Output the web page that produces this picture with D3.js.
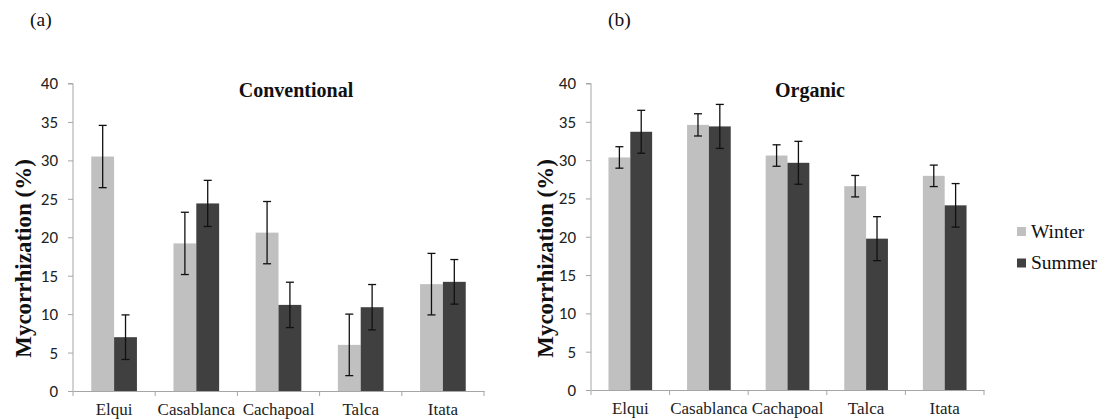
<!DOCTYPE html>
<html><head><meta charset="utf-8">
<script src="https://cdn.jsdelivr.net/npm/d3@7"></script>
<style>body{margin:0;background:#fff}</style>
</head><body>
<svg id="c" width="1109" height="420"></svg>
<script>
const categories = ["Elqui","Casablanca","Cachapoal","Talca","Itata"];
const seriesNames = ["Winter","Summer"];
const convWinter = [30.5, 19.2, 20.6, 6.0, 13.9];
const convWinterErr = [4.05, 4.05, 4.05, 4.0, 4.0];
const convSummer = [7.0, 24.4, 11.2, 10.9, 14.2];
const convSummerErr = [2.9, 3.0, 2.95, 2.95, 2.9];
const orgWinter = [30.35, 34.6, 30.6, 26.6, 27.95];
const orgWinterErr = [1.4, 1.45, 1.4, 1.4, 1.4];
const orgSummer = [33.7, 34.4, 29.65, 19.75, 24.1];
const orgSummerErr = [2.8, 2.87, 2.8, 2.87, 2.84];
const yTicks = [0,5,10,15,20,25,30,35,40];
const colors = ["#c0c0c0","#404040"];

const svg = d3.select("#c");
const SERIF = "Liberation Serif";
const SANS = "Carlito";

function panel(opt){
  const g = svg.append("g");
  const x = d3.scaleBand().domain(categories).range([opt.x0, opt.x1]).paddingInner(0).paddingOuter(0);
  const y = d3.scaleLinear().domain([0,40]).range([opt.y0, opt.y1]);
  const inner = d3.scaleBand().domain(seriesNames).range([0, x.bandwidth()]).paddingInner(0).paddingOuter(0.8);

  // y axis
  const ya = g.append("g").attr("transform",`translate(${opt.x0},0)`)
    .call(d3.axisLeft(y).tickValues(yTicks).tickSize(5).tickPadding(10).tickFormat(d3.format("d")));
  ya.select(".domain").attr("stroke","#a6a6a6").attr("d",`M-5,${opt.y1}H0V${opt.y0}`);
  ya.selectAll(".tick line").attr("stroke","#a6a6a6");
  ya.selectAll(".tick text").attr("font-family",SANS).attr("font-size",17).attr("fill","#222");

  // bars
  const data = opt.series;
  data.forEach((s,si)=>{
    g.selectAll(null).data(categories).enter().append("rect")
      .attr("x", d=>x(d)+inner(seriesNames[si]))
      .attr("width", inner.bandwidth())
      .attr("y", (d,i)=>y(s.v[i]))
      .attr("height", (d,i)=>y(0)-y(s.v[i]))
      .attr("fill", colors[si]);
  });
  // x axis
  const xa = g.append("g").attr("transform",`translate(0,${opt.y0})`)
    .call(d3.axisBottom(x).tickSize(0).tickPadding(12));
  xa.select(".domain").attr("stroke","#a6a6a6");
  xa.selectAll(".tick text").attr("font-family",SERIF).attr("font-size",17).attr("fill","#222")
    .attr("dy",null).attr("y",24);
  // category boundary ticks
  g.selectAll(null).data(d3.range(categories.length+1)).enter().append("line")
    .attr("x1", i=>opt.x0 + i*x.step()).attr("x2", i=>opt.x0 + i*x.step())
    .attr("y1", opt.y0).attr("y2", opt.y0+5).attr("stroke","#a6a6a6");

  // error bars
  data.forEach((s,si)=>{
    categories.forEach((c,i)=>{
      const cx = x(c)+inner(seriesNames[si])+inner.bandwidth()/2;
      const top = y(s.v[i]+s.e[i]), bot = y(s.v[i]-s.e[i]);
      g.append("line").attr("x1",cx).attr("x2",cx).attr("y1",top).attr("y2",bot).attr("stroke","#111").attr("stroke-width",1.3);
      [top,bot].forEach(yy=>g.append("line").attr("x1",cx-4).attr("x2",cx+4).attr("y1",yy).attr("y2",yy).attr("stroke","#111").attr("stroke-width",1.3));
    });
  });

  // title
  g.append("text").attr("x",opt.tx).attr("y",97).attr("text-anchor","middle")
    .attr("font-family",SERIF).attr("font-weight","bold").attr("font-size",20).attr("fill","#111").text(opt.title);
  // y title
  g.append("text").attr("transform",`translate(${opt.ytx},258.5) rotate(-90)`).attr("text-anchor","middle")
    .attr("dy","0.35em")
    .attr("font-family",SERIF).attr("font-weight","bold").attr("font-size",23).attr("fill","#111").text("Mycorrhization (%)");
  // panel label
  g.append("text").attr("x",opt.lx).attr("y",26).attr("font-family",SERIF).attr("font-size",19.5).attr("fill","#111").text(opt.label);
}

panel({x0:73, x1:484, y0:391, y1:83.5, tx:296, ytx:23, lx:30, label:"(a)", title:"Conventional",
  series:[{v:convWinter,e:convWinterErr},{v:convSummer,e:convSummerErr}]});
panel({x0:591, x1:984, y0:390, y1:83.5, tx:810, ytx:545, lx:608, label:"(b)", title:"Organic",
  series:[{v:orgWinter,e:orgWinterErr},{v:orgSummer,e:orgSummerErr}]});

// legend
const lg = svg.append("g");
seriesNames.forEach((n,i)=>{
  lg.append("rect").attr("x",1017).attr("y",227+i*31.5).attr("width",9).attr("height",9).attr("fill",colors[i]);
  lg.append("text").attr("x",1031).attr("y",237.5+i*31.5).attr("font-family",SERIF).attr("font-size",19.5).attr("fill","#111").text(n);
});
</script>
</body></html>
